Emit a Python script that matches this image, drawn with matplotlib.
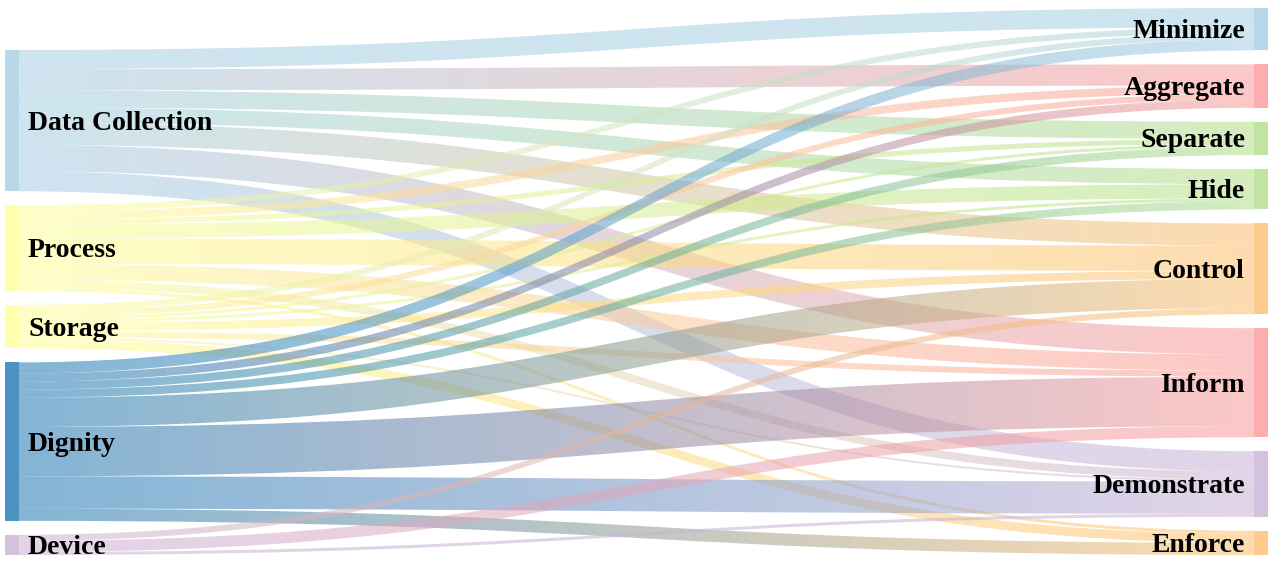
import numpy as np
import matplotlib.pyplot as plt
from matplotlib.path import Path
from matplotlib.patches import PathPatch, Rectangle
from matplotlib.colors import to_rgb

# nodes
sources = ["Data Collection", "Process", "Storage", "Dignity", "Device"]
targets = ["Minimize", "Aggregate", "Separate", "Hide", "Control",
           "Inform", "Demonstrate", "Enforce"]

source_colors = ["#a6cee3", "#ffff99", "#ffff99", "#1f78b4", "#cab2d6"]
target_colors = ["#a6cee3", "#fb9a99", "#b2df8a", "#b2df8a", "#fdbf6f",
                 "#fb9a99", "#cab2d6", "#fdbf6f"]

# flow sizes, one list per source, in target order
dc_flows      = [19, 21, 17, 15, 22, 26, 20, 0]
process_flows = [6, 8, 5, 14, 25, 16, 8, 3]
storage_flows = [6, 6, 3, 3, 8, 6, 2, 9]
dignity_flows = [11, 8, 8, 8, 29, 49, 32, 12]
device_flows  = [0, 0, 0, 0, 6, 11, 3, 0]

flows = np.array([dc_flows, process_flows, storage_flows, dignity_flows, device_flows], dtype=float)

W, H = 1280, 566
top, bottom = 8, 555
pad = 14
node_w = 14
left_x, right_x = 5, 1254
node_alpha = 0.8
link_alpha = 0.55

src_tot = flows.sum(axis=1)
tgt_tot = flows.sum(axis=0)
k = (bottom - top - (len(targets) - 1) * pad) / tgt_tot.sum()  # px per unit

# right column stacked from top, left column aligned to the bottom
tgt_y = top + np.concatenate([[0], np.cumsum(tgt_tot * k + pad)[:-1]])
left_h = src_tot.sum() * k + (len(sources) - 1) * pad
src_y = (bottom - left_h) + np.concatenate([[0], np.cumsum(src_tot * k + pad)[:-1]])

fig = plt.figure(figsize=(W / 100, H / 100), dpi=100)
ax = fig.add_axes([0, 0, 1, 1])


def ribbon(x0, x1, ya0, yb0, ya1, yb1):
    xm0 = x0 + 0.5 * (x1 - x0)
    xm1 = x1 - 0.5 * (x1 - x0)
    verts = [(x0, ya0), (xm0, ya0), (xm1, ya1), (x1, ya1),
             (x1, yb1), (xm1, yb1), (xm0, yb0), (x0, yb0), (x0, ya0)]
    codes = [Path.MOVETO, Path.CURVE4, Path.CURVE4, Path.CURVE4,
             Path.LINETO, Path.CURVE4, Path.CURVE4, Path.CURVE4, Path.CLOSEPOLY]
    return Path(verts, codes)


# links: ordered by target at the source, by source at the target
src_off = src_y.copy()
tgt_off = tgt_y.copy()
x0, x1 = left_x + node_w, right_x
grad = np.linspace(0, 1, 256)[None, :, None]
for i in range(len(sources)):
    for j in range(len(targets)):
        v = flows[i, j]
        if v <= 0:
            continue
        h = v * k
        ya0, yb0 = src_off[i], src_off[i] + h
        # target offset follows source order, which is the loop order
        ya1, yb1 = tgt_off[j], tgt_off[j] + h
        src_off[i] += h
        tgt_off[j] += h
        patch = PathPatch(ribbon(x0, x1, ya0, yb0, ya1, yb1), facecolor="none", edgecolor="none")
        ax.add_patch(patch)
        c0 = np.array(to_rgb(source_colors[i]))
        c1 = np.array(to_rgb(target_colors[j]))
        rgb = c0[None, None, :] * (1 - grad) + c1[None, None, :] * grad
        rgba = np.concatenate([rgb, np.full((1, 256, 1), link_alpha)], axis=2)
        im = ax.imshow(rgba, extent=(x0, x1, max(ya0, ya1, yb0, yb1) + 1, min(ya0, ya1) - 1),
                       aspect="auto", interpolation="bilinear", zorder=1)
        im.set_clip_path(patch)

# nodes and labels (baseline placed so the capitals sit centred on the node)
font = dict(family="Liberation Serif", fontsize=20, fontweight="bold", color="black")
cap_half = 9
for i, name in enumerate(sources):
    h = src_tot[i] * k
    ax.add_patch(Rectangle((left_x, src_y[i]), node_w, h, facecolor=source_colors[i],
                           alpha=node_alpha, edgecolor="none", zorder=2))
    ax.text(left_x + 23, src_y[i] + h / 2 + cap_half, name, ha="left", va="baseline", zorder=3, **font)
for j, name in enumerate(targets):
    h = tgt_tot[j] * k
    ax.add_patch(Rectangle((right_x, tgt_y[j]), node_w, h, facecolor=target_colors[j],
                           alpha=node_alpha, edgecolor="none", zorder=2))
    ax.text(right_x - 9, tgt_y[j] + h / 2 + cap_half, name, ha="right", va="baseline", zorder=3, **font)

ax.set_xlim(0, W)
ax.set_ylim(H, 0)
ax.axis("off")
fig.savefig("out.png", dpi=100)
